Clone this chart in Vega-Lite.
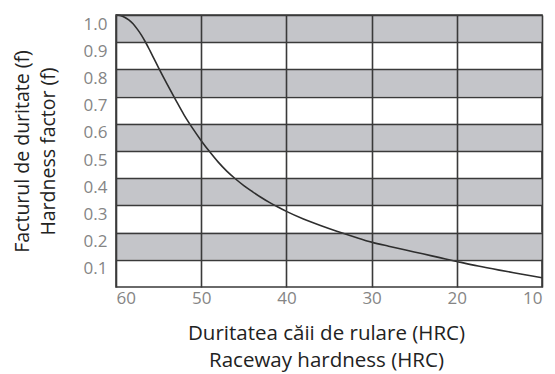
{
  "$schema": "https://vega.github.io/schema/vega-lite/v6.json",
  "width": 426,
  "height": 272,
  "autosize": {"type": "none"},
  "padding": {"left": 116, "top": 15, "right": 13, "bottom": 87},
  "config": {
    "view": {"stroke": "#3a3a3a", "strokeWidth": 1.6},
    "font": "Open Sans",
    "axis": {"labelOverlap": false}
  },
  "datasets": {
    "bands": [
      {"lo": 0.9, "hi": 1.0},
      {"lo": 0.7, "hi": 0.8},
      {"lo": 0.5, "hi": 0.6},
      {"lo": 0.3, "hi": 0.4},
      {"lo": 0.1, "hi": 0.2}
    ],
    "curve": [
      {"hrc": 60.0, "f": 1.0},
      {"hrc": 59.5, "f": 0.998},
      {"hrc": 59.0, "f": 0.992},
      {"hrc": 58.5, "f": 0.982},
      {"hrc": 58.0, "f": 0.968},
      {"hrc": 57.5, "f": 0.948},
      {"hrc": 57.0, "f": 0.925},
      {"hrc": 56.5, "f": 0.898},
      {"hrc": 56.0, "f": 0.868},
      {"hrc": 55.5, "f": 0.837},
      {"hrc": 55.0, "f": 0.806},
      {"hrc": 54.0, "f": 0.746},
      {"hrc": 53.0, "f": 0.688},
      {"hrc": 52.0, "f": 0.632},
      {"hrc": 51.0, "f": 0.583},
      {"hrc": 50.0, "f": 0.538},
      {"hrc": 49.0, "f": 0.497},
      {"hrc": 48.0, "f": 0.459},
      {"hrc": 47.0, "f": 0.426},
      {"hrc": 46.0, "f": 0.398},
      {"hrc": 45.0, "f": 0.373},
      {"hrc": 44.0, "f": 0.351},
      {"hrc": 43.0, "f": 0.330},
      {"hrc": 42.0, "f": 0.311},
      {"hrc": 41.0, "f": 0.294},
      {"hrc": 40.0, "f": 0.278},
      {"hrc": 38.0, "f": 0.250},
      {"hrc": 36.0, "f": 0.226},
      {"hrc": 34.0, "f": 0.204},
      {"hrc": 32.0, "f": 0.184},
      {"hrc": 30.0, "f": 0.165},
      {"hrc": 28.0, "f": 0.150},
      {"hrc": 26.0, "f": 0.136},
      {"hrc": 24.0, "f": 0.122},
      {"hrc": 22.0, "f": 0.108},
      {"hrc": 20.0, "f": 0.094},
      {"hrc": 17.5, "f": 0.077},
      {"hrc": 15.0, "f": 0.062},
      {"hrc": 12.5, "f": 0.048},
      {"hrc": 10.0, "f": 0.034}
    ]
  },
  "layer": [
    {
      "data": {"name": "bands"},
      "mark": {"type": "rect", "fill": "#c4c5c9"},
      "encoding": {
        "x": {"datum": 60, "type": "quantitative", "scale": {"domain": [10, 60], "reverse": true, "nice": false}},
        "x2": {"datum": 10},
        "y": {"field": "lo", "type": "quantitative", "scale": {"domain": [0, 1], "nice": false}},
        "y2": {"field": "hi"}
      }
    },
    {
      "data": {"name": "curve"},
      "mark": {"type": "line", "color": "#2e2e2e", "strokeWidth": 1.6, "interpolate": "monotone"},
      "encoding": {
        "x": {
          "field": "hrc", "type": "quantitative",
          "scale": {"domain": [10, 60], "reverse": true, "nice": false},
          "axis": {
            "values": [60, 50, 40, 30, 20, 10], "tickCount": 20, "zindex": 1,
            "grid": true, "gridColor": "#3a3a3a", "gridWidth": 1.6, "gridOpacity": 1,
            "domain": false, "ticks": false, "labelOverlap": false,
            "labelFontSize": 17, "labelColor": "#858585", "labelPadding": 3,
            "labelFont": "Open Sans",
            "title": ["Duritatea căii de rulare (HRC)", "Raceway hardness (HRC)"],
            "titleFontSize": 20.5, "titleFontWeight": "normal", "titleColor": "#222222",
            "titleFont": "Open Sans", "titleLineHeight": 27, "titlePadding": 17,
            "titleX": 210, "titleAlign": "center"
          }
        },
        "y": {
          "field": "f", "type": "quantitative",
          "scale": {"domain": [0, 1], "nice": false},
          "axis": {
            "values": [0.1, 0.2, 0.3, 0.4, 0.5, 0.6, 0.7, 0.8, 0.9, 1.0], "tickCount": 20, "zindex": 1,
            "format": ".1f",
            "grid": true, "gridColor": "#3a3a3a", "gridWidth": 1.6, "gridOpacity": 1,
            "domain": false, "ticks": false, "labelOverlap": false,
            "labelFontSize": 17, "labelColor": "#858585", "labelPadding": 9,
            "labelOffset": 9, "labelFont": "Open Sans",
            "title": ["Facturul de duritate (f)", "Hardness factor (f)"],
            "titleFontSize": 19.5, "titleFontWeight": "normal", "titleColor": "#222222",
            "titleFont": "Open Sans", "titleLineHeight": 26, "titlePadding": 25
          }
        }
      }
    }
  ]
}
